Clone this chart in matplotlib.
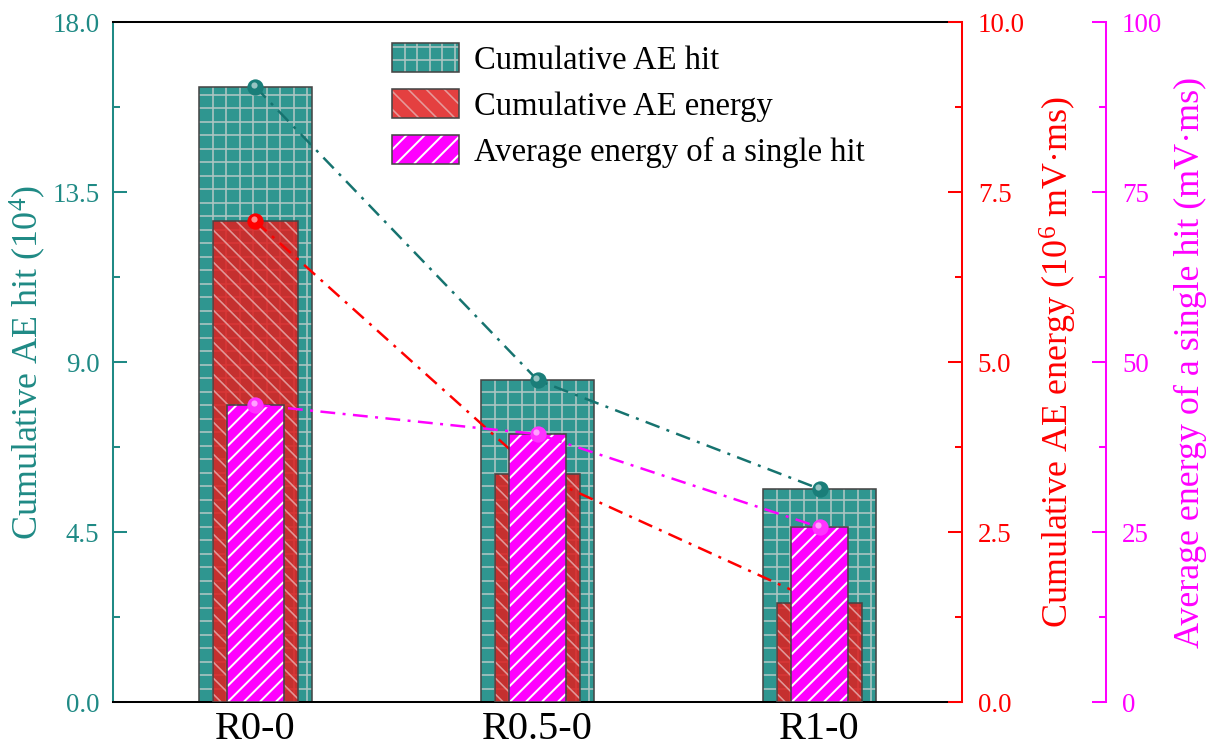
import matplotlib
matplotlib.use("Agg")
import matplotlib.pyplot as plt
from matplotlib.patches import Patch, Rectangle
from matplotlib.collections import LineCollection
from matplotlib.legend_handler import HandlerBase
from matplotlib.ticker import MultipleLocator, FormatStrFormatter
from matplotlib.transforms import offset_copy, IdentityTransform

plt.rcParams['font.family'] = ['Liberation Serif', 'DejaVu Serif']
plt.rcParams['mathtext.fontset'] = 'custom'
plt.rcParams['mathtext.rm'] = 'Liberation Serif'
plt.rcParams['mathtext.it'] = 'Liberation Serif:italic'

# ---- data ----
categories = ['R0-0', 'R0.5-0', 'R1-0']
ae_hit = [16.28, 8.52, 5.64]          # 10^4
ae_energy = [7.07, 3.35, 1.46]        # 10^6 mV·ms
avg_energy = [43.7, 39.4, 25.7]       # mV·ms
legend_labels = ['Cumulative AE hit', 'Cumulative AE energy',
                 'Average energy of a single hit']

TEAL = '#2F9690'
TEAL_TXT = '#1F8A85'
TEAL_LINE = '#16736F'
RED = '#E01E1E'
MAG = '#FF00FF'
EDGE = '#454545'
GRID_C = '#AFC6C4'
REDH_C = '#E6ABAB'

DPI = 81
PX = 72.0 / DPI   # points per pixel
fig = plt.figure(figsize=(1215 / DPI, 749 / DPI), dpi=DPI)
ax1 = fig.add_axes([113 / 1215, 1 - 702 / 749, 849 / 1215, 680 / 749])
ax2 = ax1.twinx()
ax3 = ax1.twinx()

x = list(range(len(categories)))


def hatch_segments(x0, y0, x1, y1, kind, s):
    segs = []
    if kind == '+':
        k = 1
        while x0 + k * s < x1 - 1e-6:
            segs.append([(x0 + k * s, y0), (x0 + k * s, y1)])
            k += 1
        k = 1
        while y0 + k * s < y1 - 1e-6:
            segs.append([(x0, y0 + k * s), (x1, y0 + k * s)])
            k += 1
        return segs
    m = 1 if kind == '/' else -1
    if m == 1:
        cmin, cmax = y0 - x1, y1 - x0
    else:
        cmin, cmax = y0 + x0, y1 + x1
    c = cmin + s / 2.0
    while c < cmax:
        if m == 1:
            xa, xb = max(x0, y0 - c), min(x1, y1 - c)
        else:
            xa, xb = max(x0, c - y1), min(x1, c - y0)
        if xb > xa:
            segs.append([(xa, m * xa + c), (xb, m * xb + c)])
        c += s
    return segs


def hbar(ax, h, w, face, alpha=1.0, z=2):
    bars = ax.bar(x, h, w, color=face, edgecolor='none', linewidth=0,
                  alpha=alpha, zorder=z)
    ax.bar(x, h, w, fill=False, edgecolor=EDGE, linewidth=1.4, zorder=z + 0.2)
    return bars


def add_hatch(ax, bars, kind, spacing_px, color, lw_px, alpha=1.0, z=2.1):
    segs = []
    for r in bars.patches:
        bb = r.get_window_extent()
        segs += hatch_segments(bb.x0, bb.y0, bb.x1, bb.y1, kind, spacing_px)
    lc = LineCollection(segs, colors=color, linewidths=lw_px * PX, alpha=alpha,
                        transform=IdentityTransform(), zorder=z)
    ax.add_collection(lc, autolim=False)


def balls(ax, vals, color, lcolor):
    ax.plot(x, vals, linestyle=(0, (6, 3, 1.2, 3)), color=lcolor, lw=2.2,
            zorder=5)
    ax.plot(x, vals, 'o', ms=14.5, color=color, mec='none', zorder=6)
    tr = offset_copy(ax.transData, fig=fig, x=-1.6, y=2.0, units='points')
    ax.plot(x, vals, 'o', ms=5.5, color='white', alpha=0.55, mec='none',
            transform=tr, zorder=7)


ax1.set_xlim(-0.505, 2.505)
ax1.set_ylim(0, 18)
ax2.set_ylim(0, 10)
ax3.set_ylim(0, 100)

b1 = hbar(ax1, ae_hit, 0.40, TEAL)
b2 = hbar(ax2, ae_energy, 0.30, RED, alpha=0.85)
b3 = hbar(ax3, avg_energy, 0.20, MAG)
add_hatch(ax1, b1, '+', 13.5, GRID_C, 1.6)
add_hatch(ax2, b2, '\\', 16, REDH_C, 1.6, alpha=0.85)
add_hatch(ax3, b3, '/', 16, 'white', 2.0)
balls(ax1, ae_hit, '#1A7E79', TEAL_LINE)
balls(ax2, ae_energy, '#FF0000', '#FF0000')
balls(ax3, avg_energy, '#FF33FF', MAG)

SW = 1.8
for s in ['top', 'bottom']:
    ax1.spines[s].set_color('black')
    ax1.spines[s].set_linewidth(SW)
ax1.spines['left'].set_color(TEAL_TXT)
ax1.spines['left'].set_linewidth(SW)
ax1.spines['right'].set_visible(False)
for s in ['top', 'bottom', 'left']:
    ax2.spines[s].set_visible(False)
    ax3.spines[s].set_visible(False)
ax2.spines['right'].set_color('#FF0000')
ax2.spines['right'].set_linewidth(SW)
ax3.spines['right'].set_position(('axes', 1.17))
ax3.spines['right'].set_color(MAG)
ax3.spines['right'].set_linewidth(SW)

ax1.set_xticks(x)
ax1.set_xticklabels(categories, fontsize=36)
ax1.tick_params(axis='x', direction='in', length=10.5, width=SW, color='black',
                pad=8, top=False)

ax1.yaxis.set_major_locator(MultipleLocator(4.5))
ax1.yaxis.set_minor_locator(MultipleLocator(2.25))
ax1.yaxis.set_major_formatter(FormatStrFormatter('%.1f'))
ax1.tick_params(axis='y', which='major', direction='in', length=12.4, width=SW,
                colors=TEAL_TXT, labelsize=24, pad=12)
ax1.tick_params(axis='y', which='minor', direction='in', length=6, width=SW,
                colors=TEAL_TXT)

ax2.yaxis.set_major_locator(MultipleLocator(2.5))
ax2.yaxis.set_minor_locator(MultipleLocator(1.25))
ax2.yaxis.set_major_formatter(FormatStrFormatter('%.1f'))
ax2.tick_params(axis='y', which='major', direction='in', length=12.4, width=SW,
                colors='#FF0000', labelsize=24, pad=14)
ax2.tick_params(axis='y', which='minor', direction='in', length=6, width=SW,
                colors='#FF0000')

ax3.yaxis.set_major_locator(MultipleLocator(25))
ax3.yaxis.set_minor_locator(MultipleLocator(12.5))
ax3.yaxis.set_major_formatter(FormatStrFormatter('%d'))
ax3.tick_params(axis='y', which='major', direction='in', length=12.4, width=SW,
                colors=MAG, labelsize=24, pad=14)
ax3.tick_params(axis='y', which='minor', direction='in', length=6, width=SW,
                colors=MAG)

ax1.set_ylabel('Cumulative AE hit (10$^{4}$)', fontsize=32, color=TEAL_TXT,
               labelpad=4)
ax2.set_ylabel('Cumulative AE energy (10$^{6}$ mV\u00b7ms)', fontsize=32,
               color='#FF0000', labelpad=12)
ax3.set_ylabel('Average energy of a single hit (mV\u00b7ms)', fontsize=32,
               color=MAG, labelpad=10)


class HatchHandler(HandlerBase):
    def __init__(self, face, kind, spacing_pt, hcolor, hlw_pt, alpha=1.0):
        super().__init__()
        self.face, self.kind, self.sp = face, kind, spacing_pt
        self.hcolor, self.hlw, self.alpha = hcolor, hlw_pt, alpha

    def create_artists(self, legend, orig_handle, xdescent, ydescent, width,
                       height, fontsize, trans):
        x0, y0 = -xdescent, -ydescent
        face = Rectangle((x0, y0), width, height, facecolor=self.face,
                         edgecolor='none', alpha=self.alpha, transform=trans)
        segs = hatch_segments(x0, y0, x0 + width, y0 + height, self.kind, self.sp)
        lc = LineCollection(segs, colors=self.hcolor, linewidths=self.hlw,
                            alpha=self.alpha, transform=trans)
        edge = Rectangle((x0, y0), width, height, fill=False, edgecolor=EDGE,
                         lw=1.4, transform=trans)
        return [face, lc, edge]


h1, h2, h3 = Patch(), Patch(), Patch()
hmap = {
    h1: HatchHandler(TEAL, '+', 12.6 * PX, GRID_C, 1.6 * PX),
    h2: HatchHandler(RED, '\\', 18 * PX, REDH_C, 1.6 * PX, alpha=0.85),
    h3: HatchHandler(MAG, '/', 18 * PX, 'white', 2.0 * PX),
}
leg = ax3.legend([h1, h2, h3], legend_labels, handler_map=hmap,
                 loc='upper left', bbox_to_anchor=(0.3286, 0.969),
                 frameon=False, fontsize=29, handlelength=2.05,
                 handleheight=1.0, handletextpad=0.45, labelspacing=0.40,
                 borderpad=0, borderaxespad=0)
leg.set_zorder(20)

fig.savefig('out.png', dpi=DPI)
